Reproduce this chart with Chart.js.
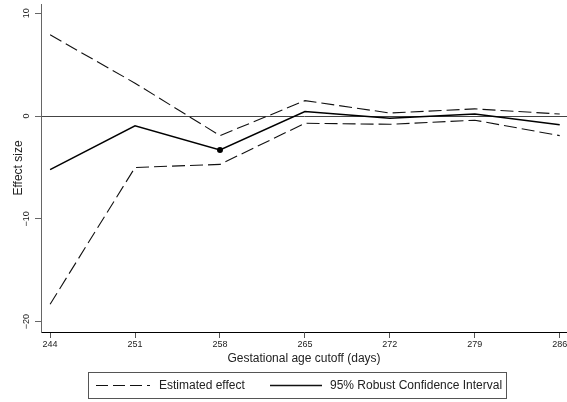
<!DOCTYPE html>
<html>
<head>
<meta charset="utf-8">
<script src="https://cdn.jsdelivr.net/npm/chart.js@4/dist/chart.umd.min.js"></script>
<style>
  html, body { margin: 0; padding: 0; background: #fff; }
  canvas { display: block; }
</style>
</head>
<body>
<canvas id="myChart" width="567" height="402"></canvas>
<script>
// waarden
let cutoffDagen = [244, 251, 258, 265, 272, 279, 286];
let bovenGrens = [7.9, 3.2, -1.9, 1.5, 0.3, 0.7, 0.2];
let onderGrens = [-18.3, -5.0, -4.7, -0.7, -0.8, -0.4, -1.9];
let schatting = [-5.2, -0.95, -3.3, 0.45, -0.2, 0.2, -0.85];
let gemarkeerdeDag = 258;

let yTicks = [-20, -10, 0, 10];
let xTicks = [244, 251, 258, 265, 272, 279, 286];

let legendaTeksten = ["Estimated effect", "95% Robust Confidence Interval"];

let lettertype = "'Liberation Sans', Arial, Helvetica, sans-serif";
let streepje = [13, 5];

function punten(waarden) {
    return waarden.map((v, i) => ({x: cutoffDagen[i], y: v}));
}

const eigenLegenda = {
    id: "eigenLegenda",
    afterDraw(chart) {
        const ctx = chart.ctx;
        ctx.save();
        ctx.strokeStyle = "#555";
        ctx.lineWidth = 1;
        ctx.strokeRect(88.5, 372.5, 418, 26);

        ctx.font = "12px " + lettertype;
        ctx.fillStyle = "#222";
        ctx.textBaseline = "middle";
        ctx.textAlign = "left";

        // gestreepte lijn
        ctx.strokeStyle = "#111";
        ctx.lineWidth = 1.1;
        ctx.setLineDash([12, 5]);
        ctx.beginPath();
        ctx.moveTo(96, 385.5);
        ctx.lineTo(150, 385.5);
        ctx.stroke();
        ctx.fillText(legendaTeksten[0], 159, 386);

        // doorgetrokken lijn
        ctx.setLineDash([]);
        ctx.lineWidth = 1.4;
        ctx.beginPath();
        ctx.moveTo(270, 385.5);
        ctx.lineTo(322, 385.5);
        ctx.stroke();
        ctx.fillText(legendaTeksten[1], 330, 386);
        ctx.restore();
    }
};

const config = {
    type: "line",
    data: {
        datasets: [
            {
                label: "boven",
                data: punten(bovenGrens),
                borderColor: "#111",
                borderWidth: 1.1,
                borderDash: streepje,
                pointRadius: 0,
                fill: false,
                tension: 0
            },
            {
                label: "onder",
                data: punten(onderGrens),
                borderColor: "#111",
                borderWidth: 1.1,
                borderDash: streepje,
                pointRadius: 0,
                fill: false,
                tension: 0
            },
            {
                label: "schatting",
                data: punten(schatting),
                borderColor: "#000",
                backgroundColor: "#000",
                borderWidth: 1.5,
                pointRadius: cutoffDagen.map(d => d === gemarkeerdeDag ? 3 : 0),
                pointBorderWidth: 0,
                fill: false,
                tension: 0
            }
        ]
    },
    options: {
        responsive: false,
        animation: false,
        devicePixelRatio: 1,
        layout: {
            padding: {top: 4, right: 0, bottom: 32, left: 0}
        },
        plugins: {
            legend: {display: false},
            tooltip: {enabled: false}
        },
        scales: {
            x: {
                type: "linear",
                min: 243.25,
                max: 286.6,
                afterBuildTicks: s => { s.ticks = xTicks.map(v => ({value: v})); },
                afterFit: s => {
                    s.height = 38;
                    s.paddingLeft = 0;
                    s.paddingRight = 0;
                },
                border: {display: true, color: "#000", width: 1},
                grid: {
                    display: true,
                    drawOnChartArea: false,
                    drawTicks: true,
                    tickLength: 6,
                    tickColor: "#555",
                    tickWidth: 1
                },
                ticks: {
                    padding: 1,
                    maxRotation: 0,
                    autoSkip: false,
                    color: "#222",
                    font: {family: lettertype, size: 9},
                    callback: v => String(v)
                },
                title: {
                    display: true,
                    text: "Gestational age cutoff (days)",
                    color: "#222",
                    font: {family: lettertype, size: 12, lineHeight: 1},
                    padding: {top: 0, bottom: 5}
                }
            },
            y: {
                type: "linear",
                min: -21,
                max: 10.9,
                afterBuildTicks: s => { s.ticks = yTicks.map(v => ({value: v})); },
                afterFit: s => {
                    s.width = 41;
                    s.paddingTop = 0;
                    s.paddingBottom = 0;
                },
                border: {display: true, color: "#666", width: 1},
                grid: {
                    display: true,
                    drawOnChartArea: true,
                    drawTicks: true,
                    tickLength: 6,
                    tickColor: "#666",
                    tickWidth: 1,
                    lineWidth: 1,
                    color: c => (c.tick && c.tick.value === 0) ? "#444" : "rgba(0,0,0,0)"
                },
                ticks: {
                    padding: 0.5,
                    minRotation: 90,
                    maxRotation: 90,
                    crossAlign: "center",
                    autoSkip: false,
                    color: "#222",
                    font: {family: lettertype, size: 9},
                    callback: v => String(v).replace("-", "\u2212")
                },
                title: {
                    display: true,
                    text: "Effect size",
                    color: "#222",
                    font: {family: lettertype, size: 12, lineHeight: 1},
                    padding: {top: 13, bottom: 0}
                }
            }
        }
    },
    plugins: [eigenLegenda]
};

let myChart = new Chart(document.getElementById("myChart"), config);
</script>
</body>
</html>
